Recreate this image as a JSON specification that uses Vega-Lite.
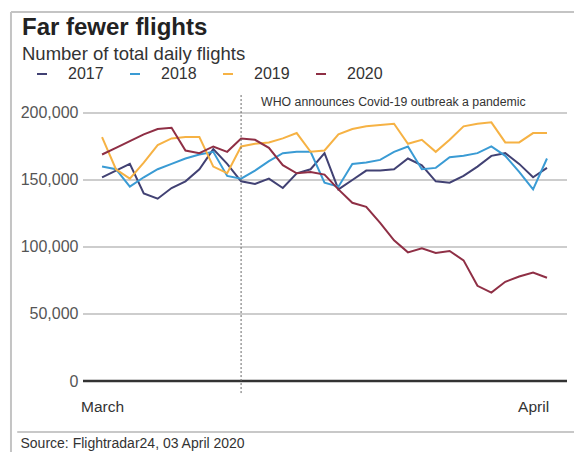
{
  "$schema": "https://vega.github.io/schema/vega-lite/v6.json",
  "width": 484,
  "height": 286,
  "autosize": {"type": "none"},
  "padding": {"left": 83, "top": 95, "right": 7, "bottom": 71},
  "background": "white",
  "config": {"font": "Liberation Sans", "view": {"stroke": null}},
  "title": {
    "text": "Far fewer flights",
    "subtitle": "Number of total daily flights",
    "anchor": "start",
    "frame": "group",
    "dx": -61,
    "dy": 63,
    "offset": 10,
    "fontSize": 24,
    "fontWeight": "bold",
    "color": "#222222",
    "subtitleFontSize": 18.5,
    "subtitleColor": "#333333",
    "subtitlePadding": 5
  },
  "datasets": {
    "flights": [
      {"year": "2017", "day": 1, "flights": 152000}, {"year": "2017", "day": 2, "flights": 157000}, {"year": "2017", "day": 3, "flights": 162000}, {"year": "2017", "day": 4, "flights": 140000}, {"year": "2017", "day": 5, "flights": 136000}, {"year": "2017", "day": 6, "flights": 144000}, {"year": "2017", "day": 7, "flights": 149000}, {"year": "2017", "day": 8, "flights": 158000}, {"year": "2017", "day": 9, "flights": 173000}, {"year": "2017", "day": 10, "flights": 162000}, {"year": "2017", "day": 11, "flights": 149000}, {"year": "2017", "day": 12, "flights": 147000}, {"year": "2017", "day": 13, "flights": 151000}, {"year": "2017", "day": 14, "flights": 144000}, {"year": "2017", "day": 15, "flights": 155000}, {"year": "2017", "day": 16, "flights": 158000}, {"year": "2017", "day": 17, "flights": 170000}, {"year": "2017", "day": 18, "flights": 143000}, {"year": "2017", "day": 19, "flights": 150000}, {"year": "2017", "day": 20, "flights": 157000}, {"year": "2017", "day": 21, "flights": 157000}, {"year": "2017", "day": 22, "flights": 158000}, {"year": "2017", "day": 23, "flights": 166000}, {"year": "2017", "day": 24, "flights": 161000}, {"year": "2017", "day": 25, "flights": 149000}, {"year": "2017", "day": 26, "flights": 148000}, {"year": "2017", "day": 27, "flights": 153000}, {"year": "2017", "day": 28, "flights": 160000}, {"year": "2017", "day": 29, "flights": 168000}, {"year": "2017", "day": 30, "flights": 170000}, {"year": "2017", "day": 31, "flights": 162000}, {"year": "2017", "day": 32, "flights": 152000}, {"year": "2017", "day": 33, "flights": 159000},
      {"year": "2018", "day": 1, "flights": 160000}, {"year": "2018", "day": 2, "flights": 158000}, {"year": "2018", "day": 3, "flights": 145000}, {"year": "2018", "day": 4, "flights": 152000}, {"year": "2018", "day": 5, "flights": 158000}, {"year": "2018", "day": 6, "flights": 162000}, {"year": "2018", "day": 7, "flights": 166000}, {"year": "2018", "day": 8, "flights": 169000}, {"year": "2018", "day": 9, "flights": 171000}, {"year": "2018", "day": 10, "flights": 153000}, {"year": "2018", "day": 11, "flights": 151000}, {"year": "2018", "day": 12, "flights": 157000}, {"year": "2018", "day": 13, "flights": 164000}, {"year": "2018", "day": 14, "flights": 170000}, {"year": "2018", "day": 15, "flights": 171000}, {"year": "2018", "day": 16, "flights": 171000}, {"year": "2018", "day": 17, "flights": 148000}, {"year": "2018", "day": 18, "flights": 145000}, {"year": "2018", "day": 19, "flights": 162000}, {"year": "2018", "day": 20, "flights": 163000}, {"year": "2018", "day": 21, "flights": 165000}, {"year": "2018", "day": 22, "flights": 171000}, {"year": "2018", "day": 23, "flights": 175000}, {"year": "2018", "day": 24, "flights": 158000}, {"year": "2018", "day": 25, "flights": 159000}, {"year": "2018", "day": 26, "flights": 167000}, {"year": "2018", "day": 27, "flights": 168000}, {"year": "2018", "day": 28, "flights": 170000}, {"year": "2018", "day": 29, "flights": 175000}, {"year": "2018", "day": 30, "flights": 168000}, {"year": "2018", "day": 31, "flights": 156000}, {"year": "2018", "day": 32, "flights": 143000}, {"year": "2018", "day": 33, "flights": 166000},
      {"year": "2019", "day": 1, "flights": 182000}, {"year": "2019", "day": 2, "flights": 158000}, {"year": "2019", "day": 3, "flights": 151000}, {"year": "2019", "day": 4, "flights": 163000}, {"year": "2019", "day": 5, "flights": 176000}, {"year": "2019", "day": 6, "flights": 181000}, {"year": "2019", "day": 7, "flights": 182000}, {"year": "2019", "day": 8, "flights": 182000}, {"year": "2019", "day": 9, "flights": 160000}, {"year": "2019", "day": 10, "flights": 155000}, {"year": "2019", "day": 11, "flights": 175000}, {"year": "2019", "day": 12, "flights": 177000}, {"year": "2019", "day": 13, "flights": 178000}, {"year": "2019", "day": 14, "flights": 181000}, {"year": "2019", "day": 15, "flights": 185000}, {"year": "2019", "day": 16, "flights": 171000}, {"year": "2019", "day": 17, "flights": 172000}, {"year": "2019", "day": 18, "flights": 184000}, {"year": "2019", "day": 19, "flights": 188000}, {"year": "2019", "day": 20, "flights": 190000}, {"year": "2019", "day": 21, "flights": 191000}, {"year": "2019", "day": 22, "flights": 192000}, {"year": "2019", "day": 23, "flights": 177000}, {"year": "2019", "day": 24, "flights": 180000}, {"year": "2019", "day": 25, "flights": 171000}, {"year": "2019", "day": 26, "flights": 180000}, {"year": "2019", "day": 27, "flights": 190000}, {"year": "2019", "day": 28, "flights": 192000}, {"year": "2019", "day": 29, "flights": 193000}, {"year": "2019", "day": 30, "flights": 178000}, {"year": "2019", "day": 31, "flights": 178000}, {"year": "2019", "day": 32, "flights": 185000}, {"year": "2019", "day": 33, "flights": 185000},
      {"year": "2020", "day": 1, "flights": 169000}, {"year": "2020", "day": 2, "flights": 174000}, {"year": "2020", "day": 3, "flights": 179000}, {"year": "2020", "day": 4, "flights": 184000}, {"year": "2020", "day": 5, "flights": 188000}, {"year": "2020", "day": 6, "flights": 189000}, {"year": "2020", "day": 7, "flights": 172000}, {"year": "2020", "day": 8, "flights": 170000}, {"year": "2020", "day": 9, "flights": 175000}, {"year": "2020", "day": 10, "flights": 171000}, {"year": "2020", "day": 11, "flights": 181000}, {"year": "2020", "day": 12, "flights": 180000}, {"year": "2020", "day": 13, "flights": 174000}, {"year": "2020", "day": 14, "flights": 161000}, {"year": "2020", "day": 15, "flights": 155000}, {"year": "2020", "day": 16, "flights": 156000}, {"year": "2020", "day": 17, "flights": 154000}, {"year": "2020", "day": 18, "flights": 143000}, {"year": "2020", "day": 19, "flights": 133000}, {"year": "2020", "day": 20, "flights": 130000}, {"year": "2020", "day": 21, "flights": 118000}, {"year": "2020", "day": 22, "flights": 105000}, {"year": "2020", "day": 23, "flights": 96000}, {"year": "2020", "day": 24, "flights": 99000}, {"year": "2020", "day": 25, "flights": 95500}, {"year": "2020", "day": 26, "flights": 97000}, {"year": "2020", "day": 27, "flights": 90000}, {"year": "2020", "day": 28, "flights": 71000}, {"year": "2020", "day": 29, "flights": 66000}, {"year": "2020", "day": 30, "flights": 74000}, {"year": "2020", "day": 31, "flights": 78000}, {"year": "2020", "day": 32, "flights": 81000}, {"year": "2020", "day": 33, "flights": 77000}
    ],
    "gridlines": [
      {"value": 50000}, {"value": 100000}, {"value": 150000}, {"value": 200000}
    ],
    "events": [
      {"day": 11, "event": "WHO announces Covid-19 outbreak a pandemic"}
    ]
  },
  "layer": [
    {
      "data": {"name": "flights"},
      "mark": {"type": "line", "strokeWidth": 2, "opacity": 0},
      "encoding": {
        "x": {
          "field": "day",
          "type": "quantitative",
          "scale": {"domain": [-0.37, 34.44], "nice": false, "zero": false},
          "axis": {
            "values": [1, 32],
            "labelExpr": "datum.value == 1 ? 'March' : 'April'",
            "labelFontSize": 15.5,
            "labelColor": "#333333",
            "ticks": false,
            "domain": false,
            "grid": false,
            "labelPadding": 18,
            "title": "Source: Flightradar24, 03 April 2020",
            "titleAnchor": "start",
            "titleAlign": "left",
            "titleBaseline": "alphabetic",
            "titleX": -63,
            "titleY": 66,
            "titleFontSize": 14,
            "titleFontWeight": "normal",
            "titleColor": "#333333"
          }
        },
        "y": {
          "field": "flights",
          "type": "quantitative",
          "scale": {"domain": [0, 213400], "nice": false},
          "axis": {
            "title": null,
            "values": [0, 50000, 100000, 150000, 200000],
            "labelExpr": "format(datum.value, ',')",
            "labelFontSize": 16,
            "labelColor": "#555555",
            "ticks": false,
            "domain": false,
            "grid": false,
            "labelPadding": 5
          }
        }
      }
    },
    {
      "data": {"name": "gridlines"},
      "mark": {"type": "rule", "color": "#bdbdbd", "strokeWidth": 1.5},
      "encoding": {
        "x": {"datum": -0.37, "type": "quantitative"},
        "x2": {"datum": 34.44},
        "y": {"field": "value", "type": "quantitative"}
      }
    },
    {
      "data": {"values": [{}]},
      "mark": {"type": "rule", "color": "#333333", "strokeWidth": 2.5},
      "encoding": {
        "y": {"datum": 0, "type": "quantitative"}
      }
    },
    {
      "data": {"name": "flights"},
      "mark": {"type": "line", "strokeWidth": 2},
      "encoding": {
        "x": {"field": "day", "type": "quantitative"},
        "y": {"field": "flights", "type": "quantitative"},
        "color": {
          "field": "year",
          "type": "nominal",
          "scale": {"domain": ["2017", "2018", "2019", "2020"], "range": ["#414173", "#3a9bd4", "#f6b244", "#8f2f45"]},
          "legend": {
            "orient": "none",
            "legendX": -49,
            "legendY": -29,
            "direction": "horizontal",
            "title": null,
            "symbolType": "stroke",
            "symbolSize": 100,
            "symbolStrokeWidth": 2,
            "labelFontSize": 16,
            "labelColor": "#333333",
            "labelOffset": 18,
            "columnPadding": 22,
            "padding": 0
          }
        }
      }
    },
    {
      "data": {"values": [{}]},
      "mark": {"type": "rule", "color": "#c4c4c4", "strokeWidth": 2, "clip": false},
      "encoding": {
        "x": {"datum": -5.55, "type": "quantitative"},
        "y": {"datum": -53000, "type": "quantitative"},
        "y2": {"datum": 275400}
      }
    },
    {
      "data": {"values": [{}]},
      "mark": {"type": "rule", "color": "#c4c4c4", "strokeWidth": 2, "clip": false},
      "encoding": {
        "x": {"datum": -5.55, "type": "quantitative"},
        "x2": {"datum": 34.95},
        "y": {"datum": 275400, "type": "quantitative"}
      }
    },
    {
      "data": {"values": [{}]},
      "mark": {"type": "rule", "color": "#c8c8c8", "strokeWidth": 2, "clip": false},
      "encoding": {
        "x": {"datum": -5.1, "type": "quantitative"},
        "x2": {"datum": 34.95},
        "y": {"datum": -38000, "type": "quantitative"}
      }
    },
    {
      "data": {"name": "events"},
      "mark": {"type": "rule", "color": "#666666", "strokeWidth": 1, "strokeDash": [2, 2], "clip": false},
      "encoding": {
        "x": {"field": "day", "type": "quantitative"},
        "y": {"datum": -9000, "type": "quantitative"},
        "y2": {"datum": 213400}
      }
    },
    {
      "data": {"name": "events"},
      "mark": {"type": "text", "align": "left", "baseline": "alphabetic", "dx": 20, "fontSize": 12.3, "color": "#333333"},
      "encoding": {
        "x": {"field": "day", "type": "quantitative"},
        "y": {"datum": 205000, "type": "quantitative"},
        "text": {"field": "event"}
      }
    }
  ]
}
